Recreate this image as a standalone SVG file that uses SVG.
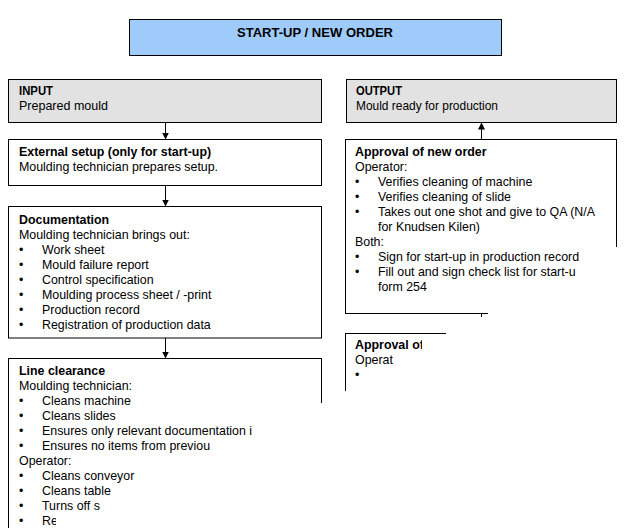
<svg xmlns="http://www.w3.org/2000/svg" width="634" height="528" viewBox="0 0 634 528">
<style>
.box{fill:#fff;stroke:#000;stroke-width:1}
.grey{fill:#e2e2e2;stroke:#000;stroke-width:1}
.blue{fill:#9fcbfa;stroke:#000;stroke-width:1}
text{font-family:"Liberation Sans",Arial,sans-serif;font-size:12.4px;fill:#000}
.b{font-weight:bold}
.conn{stroke:#000;stroke-width:1;fill:none}
</style>
<defs>
<marker id="ah" markerUnits="userSpaceOnUse" markerWidth="8" markerHeight="8" refX="7" refY="3.5" orient="auto">
<path d="M0,0 L7,3.5 L0,7 z" fill="#000"/>
</marker>
<clipPath id="vis">
<polygon points="0,0 634,0 634,247 592,247 592,265 577,265 577,300 488,300 488,317 446,317 446,338 422,338 422,353 399,353 399,367 374,367 374,381 350,381 350,391 323,391 323,403 290,403 290,423 254,423 254,438 247,438 247,453 210,453 210,468 175,468 175,483 140,483 140,498 104,498 104,513 56,513 56,528 0,528"/>
</clipPath>
</defs>
<rect width="634" height="528" fill="#fff"/>
<g clip-path="url(#vis)">
<g id="title">
<rect class="blue" x="129.5" y="19.5" width="372" height="36"/>
<text class="b" x="237" y="37" font-size="13" textLength="156" lengthAdjust="spacingAndGlyphs">START-UP / NEW ORDER</text>
</g>
<g id="input">
<rect class="grey" x="8.5" y="79.5" width="313" height="43"/>
<text class="b" x="19" y="95" textLength="34" lengthAdjust="spacingAndGlyphs">INPUT</text>
<text x="19" y="109.5" textLength="89" lengthAdjust="spacingAndGlyphs">Prepared mould</text>
</g>
<g id="output">
<rect class="grey" x="346.5" y="79.5" width="270" height="43"/>
<text class="b" x="356" y="95" textLength="46" lengthAdjust="spacingAndGlyphs">OUTPUT</text>
<text x="356" y="109.5" textLength="142" lengthAdjust="spacingAndGlyphs">Mould ready for production</text>
</g>
<g id="external-setup">
<rect class="box" x="8.5" y="139.5" width="313" height="46"/>
<text class="b" x="19" y="156">External setup (only for start-up)</text>
<text x="19" y="171">Moulding technician prepares setup.</text>
</g>
<g id="documentation">
<rect class="box" x="8.5" y="206.5" width="313" height="131.5"/>
<text class="b" x="19" y="224">Documentation</text>
<text x="19" y="239">Moulding technician brings out:</text>
<text x="19" y="254">•</text><text x="42" y="254">Work sheet</text>
<text x="19" y="269">•</text><text x="42" y="269">Mould failure report</text>
<text x="19" y="284">•</text><text x="42" y="284">Control specification</text>
<text x="19" y="299">•</text><text x="42" y="299">Moulding process sheet / -print</text>
<text x="19" y="314">•</text><text x="42" y="314">Production record</text>
<text x="19" y="329">•</text><text x="42" y="329">Registration of production data</text>
</g>
<g id="line-clearance">
<rect class="box" x="8.5" y="358.5" width="313" height="200"/>
<text class="b" x="19" y="375">Line clearance</text>
<text x="19" y="390">Moulding technician:</text>
<text x="19" y="405">•</text><text x="42" y="405">Cleans machine</text>
<text x="19" y="420">•</text><text x="42" y="420">Cleans slides</text>
<text x="19" y="435">•</text><text x="42" y="435">Ensures only relevant documentation i</text>
<text x="19" y="450">•</text><text x="42" y="450">Ensures no items from previou</text>
<text x="19" y="465">Operator:</text>
<text x="19" y="480">•</text><text x="42" y="480">Cleans conveyor</text>
<text x="19" y="495">•</text><text x="42" y="495">Cleans table</text>
<text x="19" y="510">•</text><text x="42" y="510">Turns off s</text>
<text x="19" y="525">•</text><text x="42" y="525">Re</text>
</g>
<g id="approval-new-order">
<rect class="box" x="345.5" y="139.5" width="271" height="174"/>
<text class="b" x="355" y="156">Approval of new order</text>
<text x="355" y="171">Operator:</text>
<text x="355" y="186">•</text><text x="378" y="186">Verifies cleaning of machine</text>
<text x="355" y="201">•</text><text x="378" y="201">Verifies cleaning of slide</text>
<text x="355" y="216">•</text><text x="378" y="216">Takes out one shot and give to QA (N/A</text>
<text x="378" y="231">for Knudsen Kilen)</text>
<text x="355" y="246">Both:</text>
<text x="355" y="261">•</text><text x="378" y="261">Sign for start-up in production record</text>
<text x="355" y="276">•</text><text x="378" y="276">Fill out and sign check list for start-u</text>
<text x="378" y="291">form 254</text>
</g>
<g id="approval-2">
<rect class="box" x="345.5" y="333.5" width="271" height="200"/>
<text class="b" x="355" y="349">Approval of</text>
<text x="355" y="364">Operat</text>
<text x="355" y="379">•</text>
</g>
<g id="connectors">
<line class="conn" x1="165.5" y1="122.5" x2="165.5" y2="139.5" marker-end="url(#ah)"/>
<line class="conn" x1="165.5" y1="185.5" x2="165.5" y2="206.5" marker-end="url(#ah)"/>
<line class="conn" x1="165.5" y1="338" x2="165.5" y2="358.5" marker-end="url(#ah)"/>
<line class="conn" x1="481.5" y1="139.5" x2="481.5" y2="122.5" marker-end="url(#ah)"/>
<line class="conn" x1="481.5" y1="333.5" x2="481.5" y2="313.5"/>
</g>
</g>
</svg>
